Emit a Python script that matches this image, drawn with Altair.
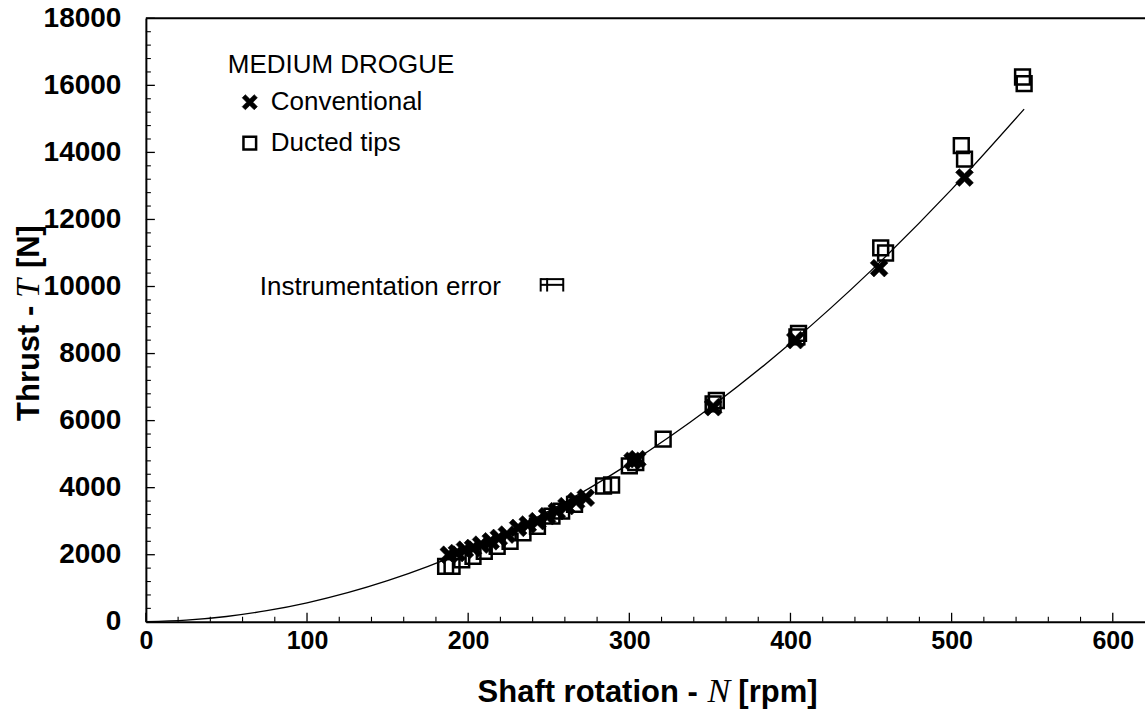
import altair as alt
import pandas as pd

# ---- data ----
conv_N = [188, 193, 198, 203, 208, 214, 219, 224, 231, 237, 243, 249, 255, 261, 267, 273,
          302, 305, 352, 403, 455, 508]
conv_T = [2000, 2050, 2150, 2200, 2300, 2400, 2500, 2600, 2800, 2900, 3000, 3150, 3300, 3450, 3600, 3700,
          4800, 4850, 6400, 8400, 10550, 13250]

duct_N = [186, 190, 196, 203, 210, 218, 226, 234, 243, 252, 258, 266, 284, 289, 300, 304, 321,
          352, 354, 404, 405, 456, 459, 506, 508, 544, 545]
duct_T = [1650, 1650, 1850, 1950, 2100, 2250, 2400, 2650, 2850, 3150, 3300, 3500, 4050, 4080, 4650, 4750, 5450,
          6500, 6600, 8500, 8600, 11150, 11000, 14200, 13800, 16250, 16050]

curve_N = [0, 25, 50, 75, 100, 150, 200, 250, 300, 350, 400, 450, 500, 545]
curve_T = [0, 47, 157, 330, 566, 1226, 2138, 3303, 4718, 6386, 8304, 10474, 12896, 15290]

series_names = ["Conventional", "Ducted tips"]

x_major = [0, 100, 200, 300, 400, 500, 600]
x_minor = [v for v in range(20, 620, 20) if v % 100 != 0]
y_major = list(range(0, 18001, 2000))
y_minor = [v for v in range(400, 18000, 400) if v % 2000 != 0]

err_N = [245, 259]
err_mid = [249]
err_T = [10050]
err_cap = [9850, 10250]

# ---- frames ----
pts = pd.DataFrame({
    "series": [series_names[0]] * len(conv_N) + [series_names[1]] * len(duct_N),
    "N": conv_N + duct_N,
    "T": conv_T + duct_T,
})
curve = pd.DataFrame({"N": curve_N, "T": curve_T})
xmaj = pd.DataFrame({"v": x_major})
xmin = pd.DataFrame({"v": x_minor})
ymaj = pd.DataFrame({"v": y_major})
ymin = pd.DataFrame({"v": y_minor})
err_h = pd.DataFrame({"lo": [err_N[0], err_N[0]], "hi": [err_N[1], err_N[1]], "t": [err_T[0], err_cap[1] - 30]})
err_v = pd.DataFrame({"n": [err_N[0], err_mid[0], err_N[1]], "t1": [err_cap[0]] * 3, "t2": [err_cap[1]] * 3})
one = pd.DataFrame({"k": [0]})

W, H = 1000, 604
XS = alt.Scale(domain=[0, 620], nice=False, zero=False)
YS = alt.Scale(domain=[0, 18000], nice=False, zero=False)
SANS = "Liberation Sans"
SERIF = "Liberation Serif"

x_axis = alt.Axis(values=x_major, format="d", ticks=False, grid=False, domainColor="black", domainWidth=2,
                  labelFont=SANS, labelFontWeight="bold", labelFontSize=25, labelColor="black",
                  labelPadding=7, labelFlush=False, title=None)
y_axis = alt.Axis(values=y_major, format="d", ticks=False, grid=False, domainColor="black", domainWidth=2,
                  labelFont=SANS, labelFontWeight="bold", labelFontSize=28, labelColor="black",
                  labelPadding=25, labelFlush=False, title=None)

line = alt.Chart(curve).mark_line(color="black", strokeWidth=1.3, interpolate="monotone").encode(
    x=alt.X("N:Q", scale=XS, axis=x_axis),
    y=alt.Y("T:Q", scale=YS, axis=y_axis),
)

X_PATH = ("M-1.2,-0.7L-0.7,-1.2L0,-0.5L0.7,-1.2L1.2,-0.7L0.5,0L1.2,0.7L0.7,1.2"
          "L0,0.5L-0.7,1.2L-1.2,0.7L-0.5,0Z")
leg = alt.Legend(orient="none", legendX=82, legendY=34, title="MEDIUM DROGUE",
                 titleFont=SANS, titleFontSize=26, titleFontWeight="normal", titleColor="black",
                 titleLimit=600, labelLimit=600,
                 titlePadding=11, labelFont=SANS, labelFontSize=26, labelColor="black",
                 symbolOffset=9, labelOffset=8, rowPadding=15, padding=0,
                 symbolSize=160)
dom = series_names

points = alt.Chart(pts).mark_point(filled=True, opacity=1, size=220).encode(
    x=alt.X("N:Q", scale=XS),
    y=alt.Y("T:Q", scale=YS),
    shape=alt.Shape("series:N", scale=alt.Scale(domain=dom, range=[X_PATH, "square"]), legend=leg),
    fill=alt.Fill("series:N", scale=alt.Scale(domain=dom, range=["black", "transparent"]), legend=leg),
    stroke=alt.Stroke("series:N", scale=alt.Scale(domain=dom, range=["black", "black"]), legend=leg),
    strokeWidth=alt.StrokeWidth("series:N", scale=alt.Scale(domain=dom, range=[0.6, 2.5]), legend=leg),
)

tick_x_major = alt.Chart(xmaj).mark_rule(color="black", strokeWidth=1.3).encode(
    x=alt.X("v:Q", scale=XS), y=alt.value(H), y2=alt.value(H - 9))
tick_x_minor = alt.Chart(xmin).mark_rule(color="black", strokeWidth=1.1).encode(
    x=alt.X("v:Q", scale=XS), y=alt.value(H), y2=alt.value(H - 5))
tick_y_major = alt.Chart(ymaj).mark_rule(color="black", strokeWidth=1.3).encode(
    y=alt.Y("v:Q", scale=YS), x=alt.value(0), x2=alt.value(9))
tick_y_minor = alt.Chart(ymin).mark_rule(color="black", strokeWidth=1.1).encode(
    y=alt.Y("v:Q", scale=YS), x=alt.value(0), x2=alt.value(5))

top_border = alt.Chart(one).mark_rule(color="black", strokeWidth=2).encode(
    x=alt.value(0), x2=alt.value(W), y=alt.value(0))

eb_h = alt.Chart(err_h).mark_rule(color="black", strokeWidth=2).encode(
    x=alt.X("lo:Q", scale=XS), x2="hi:Q", y=alt.Y("t:Q", scale=YS))
eb_v = alt.Chart(err_v).mark_rule(color="black", strokeWidth=2).encode(
    x=alt.X("n:Q", scale=XS), y=alt.Y("t1:Q", scale=YS), y2="t2:Q")


def txt(s, x, y, size, font=SANS, weight="normal", style="normal", angle=0, align="left",
        baseline="alphabetic"):
    return alt.Chart(one).mark_text(text=s, font=font, fontSize=size, fontWeight=weight,
                                    fontStyle=style, angle=angle, align=align, baseline=baseline,
                                    color="black").encode(x=alt.value(x), y=alt.value(y))


texts = [
    txt("Instrumentation error", 114, 277, 26),
    # x title
    txt("Shaft rotation -", 332, 684, 31, weight="bold"),
    txt("N", 562, 684, 34, font=SERIF, style="italic"),
    txt("[rpm]", 593, 684, 31, weight="bold"),
    # y title (rotated)
    txt("Thrust -", -107, 403, 31, weight="bold", angle=270),
    txt("T", -107, 280, 34, font=SERIF, style="italic", angle=270),
    txt("[N]", -107, 250, 31, weight="bold", angle=270),
]

chart = alt.layer(
    line, tick_x_major, tick_x_minor, tick_y_major, tick_y_minor, top_border, eb_h, eb_v, points, *texts
).properties(
    width=W, height=H,
    padding={"left": 146, "top": 18, "right": 0, "bottom": 97},
    autosize=alt.AutoSizeParams(type="none"),
    background="white",
).configure_view(stroke=None)

chart.save("out.html", embed_options={"renderer": "svg", "actions": False})
